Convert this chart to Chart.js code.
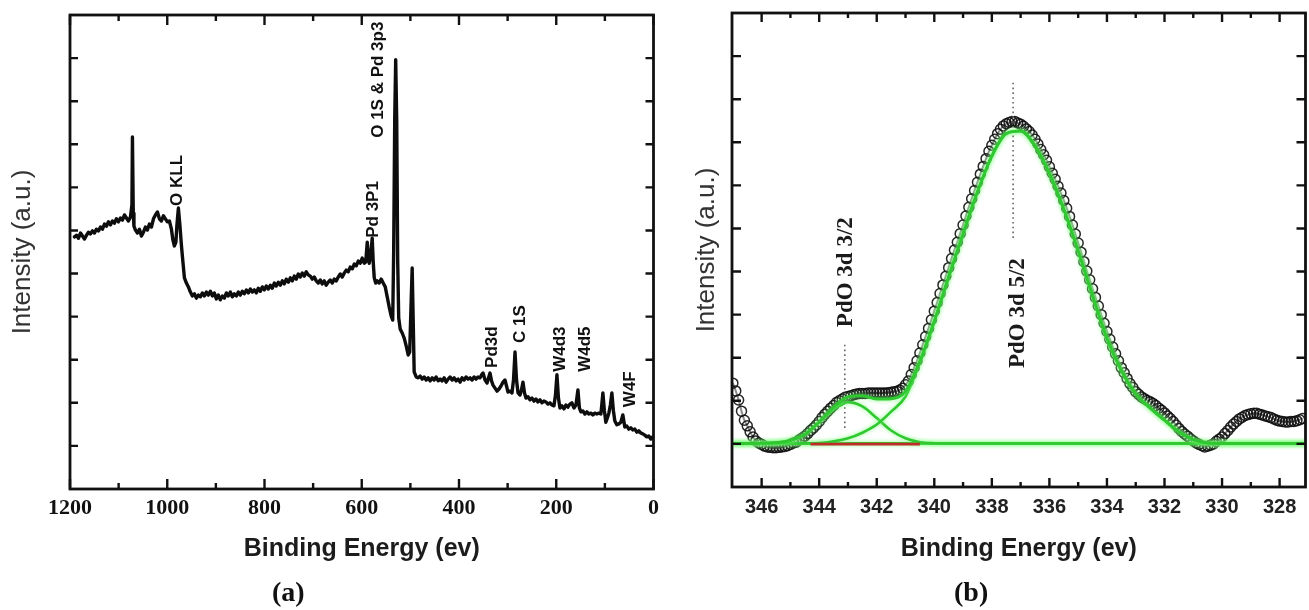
<!DOCTYPE html>
<html>
<head>
<meta charset="utf-8">
<title>XPS spectra</title>
<script src="https://cdn.jsdelivr.net/npm/chart.js@4.4.1/dist/chart.umd.min.js"></script>
<style>
  html, body { margin:0; padding:0; background:#ffffff; overflow:hidden; }
  body { width:1309px; height:610px; position:relative; }
  .panel { position:absolute; top:0; }
  .cap { position:absolute; top:576px; font-family:"Liberation Serif","Times New Roman",serif; font-weight:bold; font-size:28px; color:#111; line-height:32px; white-space:nowrap; }
</style>
</head>
<body>
<div class="panel" style="left:0;width:660px;height:610px"><canvas id="chartA" width="660" height="610"></canvas></div>
<div class="panel" style="left:660px;width:652px;height:610px"><canvas id="chartB" width="652" height="610"></canvas></div>
<div class="cap" style="left:272px">(a)</div>
<div class="cap" style="left:954px">(b)</div>
<script>
// ================= Panel (a): survey spectrum =================
const surveyE = [1190.8,1186.6,1182.5,1178.4,1174.3,1170.2,1166.1,1162.0,1157.9,1153.8,
1149.7,1145.5,1141.4,1137.3,1133.2,1129.1,1125.0,1120.9,1116.8,1112.7,
1108.6,1104.5,1100.3,1096.2,1092.1,1088.0,1083.9,1079.8,1075.7,1072.6,
1071.6,1069.9,1068.5,1065.4,1061.3,1057.2,1053.1,1049.0,1044.9,1040.8,
1036.7,1032.5,1028.4,1024.3,1020.2,1016.1,1012.0,1007.9,1003.8,999.7,
995.6,991.4,988.4,985.3,982.2,980.1,977.1,974.0,970.9,967.8,
964.7,960.6,956.5,952.4,948.3,944.2,940.1,936.0,931.9,927.8,
923.6,919.5,915.4,911.3,907.2,903.1,899.0,894.9,890.8,886.7,
882.5,878.4,874.3,870.2,866.1,862.0,857.9,853.8,849.7,845.6,
841.5,837.3,833.2,829.1,825.0,820.9,816.8,812.7,808.6,804.5,
800.4,796.3,792.1,788.0,783.9,779.8,775.7,771.6,767.5,763.4,
759.3,755.2,751.0,746.9,742.8,738.7,734.6,730.5,726.4,722.3,
718.2,714.1,710.0,705.8,701.7,697.6,693.5,689.4,685.3,681.2,
677.1,673.0,668.9,664.8,660.6,656.5,652.4,648.3,644.2,640.1,
636.0,631.9,627.8,623.7,619.5,615.4,611.3,607.2,603.1,599.0,
594.9,591.8,588.7,586.7,584.6,581.5,578.5,576.4,574.3,571.3,
568.2,564.1,560.0,555.9,551.7,547.6,543.5,539.4,536.3,534.3,
532.2,530.2,528.1,526.1,524.0,520.9,516.8,512.7,508.6,504.5,
501.4,498.3,496.3,494.2,492.2,488.0,483.9,479.8,475.7,471.6,
467.5,463.4,459.3,455.2,451.1,447.0,442.9,438.8,434.7,430.6,
426.5,422.3,418.2,414.1,410.0,405.9,401.8,397.7,393.6,389.5,
385.4,381.3,377.2,373.1,369.0,364.9,360.8,356.6,352.5,350.5,
346.4,342.3,339.2,336.2,333.1,330.0,325.9,321.8,317.7,313.6,
309.5,305.4,302.3,299.2,295.1,291.0,287.9,284.8,281.7,278.6,
274.5,271.5,268.4,265.3,262.2,258.1,254.0,249.9,245.8,241.7,
237.6,233.5,229.4,225.3,221.2,217.1,212.9,208.8,204.7,201.6,
198.6,195.5,192.4,188.3,184.2,180.1,176.0,171.9,167.8,163.6,
159.5,155.4,152.4,149.3,145.2,141.1,137.0,132.9,128.8,124.7,
120.6,116.5,112.4,108.2,106.2,104.1,101.1,98.0,94.9,91.8,
88.7,85.6,82.6,79.5,75.4,71.3,67.2,63.1,59.0,54.9,
50.8,46.7,42.6,38.4,34.3,30.2,26.1,22.0,17.9,13.8,
9.7,5.6,1.5];
const surveyI = [585,589,582,594,587,580,589,596,592,599,
594,603,599,608,603,615,610,620,613,622,
617,627,620,629,624,636,629,622,631,660,
817,640,610,601,594,603,587,596,608,601,
615,608,627,636,643,627,622,634,627,620,
622,603,578,564,573,613,652,613,566,527,
490,478,469,457,448,453,443,450,446,455,
448,457,450,459,448,455,441,450,439,448,
443,455,448,457,446,453,448,457,450,459,
453,462,455,464,457,462,455,466,459,469,
462,471,464,473,466,478,471,480,473,483,
476,487,480,490,483,494,487,499,492,501,
494,504,497,494,487,492,483,478,485,476,
483,473,480,485,478,487,483,492,499,492,
501,508,504,515,511,522,518,529,524,536,
524,527,573,543,524,543,582,527,490,478,
483,478,487,478,469,446,422,401,392,555,
856,996,856,531,397,371,362,350,332,311,
318,439,513,392,272,260,258,262,255,260,
253,258,251,258,253,260,251,255,251,258,
248,255,260,253,258,251,255,248,258,253,
260,255,258,253,260,255,260,258,267,269,
253,246,258,269,251,241,234,227,232,239,
248,253,239,225,227,223,253,318,253,223,
218,230,248,223,211,214,207,211,204,209,
202,207,200,204,202,197,200,195,193,218,
265,211,188,193,186,195,190,197,200,188,
195,230,188,179,181,174,179,174,176,172,
176,174,176,174,197,223,183,155,165,176,
195,223,183,158,149,151,155,172,144,146,
139,142,137,139,132,135,130,128,125,121,
123,116,121];
const surveyTicks = [0,100,200,300,400,500,600,700,800,900,1000,1100,1200];
const surveyTickLabels = [0,200,400,600,800,1000,1200];
const intensityTicks = [100,200,300,400,500,600,700,800,900,1000];
const surveyPeakNames = ['O KLL','O 1S & Pd 3p3','Pd 3P1','Pd3d','C 1S','W4d3','W4d5','W4F'];
const surveyPeakE = [979.1,566.1,576.4,331.9,274.4,192.2,140.8,48.4];
const surveyPeakI = [657,815,583,281,339,272,272,190];

// ================= Panel (b): Pd 3d region =================
const pdE = [347.0,346.9,346.8,346.7,346.6,346.5,346.4,346.3,346.2,346.1,
346.0,345.9,345.8,345.7,345.6,345.5,345.4,345.3,345.2,345.1,
345.0,344.9,344.8,344.7,344.6,344.5,344.4,344.3,344.2,344.1,
344.0,343.9,343.8,343.7,343.6,343.5,343.4,343.3,343.2,343.1,
343.0,342.9,342.8,342.7,342.6,342.5,342.4,342.3,342.2,342.1,
342.0,341.9,341.8,341.7,341.6,341.5,341.4,341.3,341.2,341.1,
341.0,340.9,340.8,340.7,340.6,340.5,340.4,340.3,340.2,340.1,
340.0,339.9,339.8,339.7,339.6,339.5,339.4,339.3,339.2,339.1,
339.0,338.9,338.8,338.7,338.6,338.5,338.4,338.3,338.2,338.1,
338.0,337.9,337.8,337.7,337.6,337.5,337.4,337.3,337.2,337.1,
337.0,336.9,336.8,336.7,336.6,336.5,336.4,336.3,336.2,336.1,
336.0,335.9,335.8,335.7,335.6,335.5,335.4,335.3,335.2,335.1,
335.0,334.9,334.8,334.7,334.6,334.5,334.4,334.3,334.2,334.1,
334.0,333.9,333.8,333.7,333.6,333.5,333.4,333.3,333.2,333.1,
333.0,332.9,332.8,332.7,332.6,332.5,332.4,332.3,332.2,332.1,
332.0,331.9,331.8,331.7,331.6,331.5,331.4,331.3,331.2,331.1,
331.0,330.9,330.8,330.7,330.6,330.5,330.4,330.3,330.2,330.1,
330.0,329.9,329.8,329.7,329.6,329.5,329.4,329.3,329.2,329.1,
329.0,328.9,328.8,328.7,328.6,328.5,328.4,328.3,328.2,328.1,
328.0,327.9,327.8,327.7,327.6,327.5,327.4,327.3,327.2];
const pdI = [241,223,202,176,155,142,128,116,107,102,
99,95,93,92,91,91,92,93,94,96,
99,102,104,109,113,118,124,131,137,144,
152,161,169,176,183,189,196,200,204,208,
210,212,214,216,217,217,217,218,218,218,
218,218,218,218,219,220,221,222,225,229,
237,246,261,277,293,311,330,349,368,388,
408,428,449,469,489,509,530,550,568,588,
608,629,649,669,688,707,726,744,762,779,
793,807,820,830,838,843,846,848,848,845,
842,837,831,825,817,807,796,783,771,758,
743,728,714,698,682,665,647,628,608,587,
566,545,523,501,481,460,440,420,400,380,
361,343,325,309,293,277,265,252,240,231,
221,215,209,205,201,198,194,189,183,178,
172,165,159,152,144,136,129,123,118,112,
107,102,99,96,93,95,97,100,106,111,
116,124,131,139,146,152,158,162,166,168,
170,171,171,169,167,165,163,161,158,155,
153,152,151,151,152,152,154,156,159];
const fitE = [347,346.5,346,345.5,345,344.5,344,343.5,343,342.5,342,341.5,341,340.5,340,339.5,339,338.5,338,337.5,
337,336.5,336,335.5,335,334.5,334,333.5,333,332.5,332,331.5,331,330.5,330,329.5,329,328.5,328,327.5,327];
const envelopeI = [101,101,101.5,103,108,122.5,151,185,209,212,204,205,222,292,385,488,588,685,768,820,
826,792,728,645,548,444,345,270,216,183,155,128,110,102,101,101,101,101,101,101,101];
const peak32I = [101,101,101.5,103,108,122,150,180,197,187,160,131,113,104,101.5,101,101,101,101,101,
101,101,101,101,101,101,101,101,101,101,101,101,101,101,101,101,101,101,101,101,101];
const peak52I = [101,101,101,101,101,101.5,102,106,113,126,145,175,210,289,384,488,588,685,768,820,
826,792,728,645,548,444,345,270,216,183,155,128,110,102,101,101,101,101,101,101,101];
const baseE = [347.3, 326.9];
const baseI = [101, 101];
const shirleyE = [344.3, 340.5];
const shirleyI = [99.5, 99.5];
const pdTicks = [328,329,330,331,332,333,334,335,336,337,338,339,340,341,342,343,344,345,346];
const pdTickLabels = [328,330,332,334,336,338,340,342,344,346];
const pdPeakNames = ['PdO 3d 3/2','PdO 3d 5/2'];
const pdPeakE = [343.07, 337.08];
const pdPeakI = [371, 276];
const markE = [343.11, 337.26];
const markLow = [137, 578];
const markHigh = [334, 940];

// ================= helpers / plugins =================
const SANS = '"Liberation Sans", Arial, Helvetica, sans-serif';
const SERIF = '"Liberation Serif", "Times New Roman", serif';
const pts = (xs, ys) => xs.map((x, i) => ({x: x, y: ys[i]}));

const frameTicks = {
  id: 'frameTicks',
  afterDatasetsDraw(chart, args, o) {
    const {ctx, chartArea: a} = chart;
    const xs = chart.scales.x, ys = chart.scales.y;
    ctx.save();
    ctx.strokeStyle = o.color;
    ctx.lineWidth = o.tickWidth;
    ctx.beginPath();
    xs.ticks.forEach(t => {
      const p = xs.getPixelForValue(t.value);
      const L = o.xMajor.includes(t.value) ? o.majorLen : o.minorLen;
      ctx.moveTo(p, a.bottom); ctx.lineTo(p, a.bottom - L);
      ctx.moveTo(p, a.top); ctx.lineTo(p, a.top + L);
    });
    ys.ticks.forEach(t => {
      const p = ys.getPixelForValue(t.value);
      ctx.moveTo(a.left, p); ctx.lineTo(a.left + o.yLen, p);
      ctx.moveTo(a.right, p); ctx.lineTo(a.right - o.yLen, p);
    });
    ctx.stroke();
    ctx.lineWidth = o.frameWidth;
    ctx.strokeRect(a.left, a.top, a.right - a.left, a.bottom - a.top);
    ctx.restore();
  }
};

const peakLabels = {
  id: 'peakLabels',
  afterDatasetsDraw(chart, args, o) {
    const {ctx} = chart;
    const xs = chart.scales.x, ys = chart.scales.y;
    ctx.save();
    ctx.fillStyle = o.color;
    ctx.font = o.font;
    ctx.textAlign = 'left';
    ctx.textBaseline = 'middle';
    o.names.forEach((name, i) => {
      ctx.save();
      ctx.translate(xs.getPixelForValue(o.e[i]), ys.getPixelForValue(o.v[i]));
      ctx.rotate(-Math.PI / 2);
      ctx.fillText(name, 0, 0);
      ctx.restore();
    });
    ctx.restore();
  }
};

const glow = {
  id: 'glow',
  beforeDatasetDraw(chart, args) {
    const ds = chart.data.datasets[args.index];
    if (ds.glowColor) {
      chart.ctx.save();
      chart.ctx.shadowColor = ds.glowColor;
      chart.ctx.shadowBlur = ds.glowBlur || 6;
    }
  },
  afterDatasetDraw(chart, args) {
    const ds = chart.data.datasets[args.index];
    if (ds.glowColor) chart.ctx.restore();
  }
};

function xScale(min, max, ticksArr, labelsArr, fontSpec, pad, height, titlePad) {
  return {
    type: 'linear', reverse: true, min: min, max: max,
    afterBuildTicks: s => { s.ticks = ticksArr.map(v => ({value: v})); },
    afterFit: s => { s.height = height; },
    grid: {display: false, drawTicks: false},
    border: {display: false},
    ticks: {autoSkip: false, maxRotation: 0, minRotation: 0, padding: pad, color: fontSpec.color,
      font: {family: fontSpec.family, size: fontSpec.size, weight: 'bold'},
      callback: v => labelsArr.includes(v) ? String(v) : ''},
    title: {display: true, text: 'Binding Energy (ev)', color: '#1c1c1c',
      font: {family: SANS, size: 25, weight: 'bold'}, padding: {top: 0, bottom: titlePad}}
  };
}
function yScale(width, titlePad) {
  return {
    type: 'linear', min: 0, max: 1100,
    afterBuildTicks: s => { s.ticks = intensityTicks.map(v => ({value: v})); },
    afterFit: s => { s.width = width; },
    grid: {display: false, drawTicks: false},
    border: {display: false},
    ticks: {display: false},
    title: {display: true, text: 'Intensity (a.u.)', color: '#333',
      font: {family: SANS, size: 26, weight: 'normal'}, padding: {top: titlePad, bottom: 0}}
  };
}

// ================= chart (a) =================
new Chart(document.getElementById('chartA'), {
  type: 'line',
  data: {datasets: [{
    data: pts(surveyE, surveyI),
    borderColor: '#0d0d0d', borderWidth: 3.4, pointRadius: 0, tension: 0,
    borderJoinStyle: 'round', borderCapStyle: 'round', clip: 0
  }]},
  options: {
    responsive: false, animation: false, events: [],
    layout: {padding: {left: 0, right: 6.5, top: 15, bottom: 0}},
    plugins: {
      legend: {display: false}, tooltip: {enabled: false},
      frameTicks: {color: '#111', tickWidth: 2.4, frameWidth: 2.8, majorLen: 10, minorLen: 6, yLen: 8, xMajor: surveyTickLabels},
      peakLabels: {color: '#111', font: 'bold 17px ' + SANS, names: surveyPeakNames, e: surveyPeakE, v: surveyPeakI}
    },
    scales: {
      x: xScale(0, 1200, surveyTicks, surveyTickLabels, {family: SERIF, size: 22, color: '#111'}, 6, 121, 46),
      y: yScale(70, 7.4)
    }
  },
  plugins: [glow, frameTicks, peakLabels]
});

// ================= chart (b) =================
const GREEN = 'rgb(48,200,48)';
const GLOW = 'rgba(120,255,120,0.9)';
new Chart(document.getElementById('chartB'), {
  type: 'line',
  data: {datasets: [
    {label: 'background', data: pts(shirleyE, shirleyI), borderColor: 'rgb(190,45,40)', borderWidth: 2.6,
      pointRadius: 0, order: 1},
    {label: 'envelope', data: pts(fitE, envelopeI), borderColor: GREEN, borderWidth: 3, pointRadius: 0,
      cubicInterpolationMode: 'monotone', glowColor: GLOW, glowBlur: 4, order: 2},
    {label: 'PdO 3d 5/2', data: pts(fitE, peak52I), borderColor: GREEN, borderWidth: 2.6, pointRadius: 0,
      cubicInterpolationMode: 'monotone', glowColor: GLOW, glowBlur: 4, order: 3},
    {label: 'PdO 3d 3/2', data: pts(fitE, peak32I), borderColor: GREEN, borderWidth: 2.6, pointRadius: 0,
      cubicInterpolationMode: 'monotone', glowColor: GLOW, glowBlur: 4, order: 4},
    {label: 'baseline', data: pts(baseE, baseI), borderColor: GREEN, borderWidth: 3, pointRadius: 0,
      glowColor: GLOW, glowBlur: 4, order: 5},
    {label: 'mark1', data: pts([markE[0], markE[0]], [markLow[0], markHigh[0]]), borderColor: '#666',
      borderWidth: 1.6, borderDash: [1.6, 3.2], pointRadius: 0, order: 8},
    {label: 'mark2', data: pts([markE[1], markE[1]], [markLow[1], markHigh[1]]), borderColor: '#666',
      borderWidth: 1.6, borderDash: [1.6, 3.2], pointRadius: 0, order: 8},
    {label: 'data', data: pts(pdE, pdI), showLine: true, borderColor: 'rgba(45,45,45,0.55)', borderWidth: 2,
      tension: 0.3, pointRadius: 5, pointBorderWidth: 1.5,
      pointBorderColor: 'rgba(15,15,15,0.9)', pointBackgroundColor: 'rgba(255,255,255,0)',
      pointHoverRadius: 5, clip: 0, order: 10}
  ]},
  options: {
    responsive: false, animation: false, events: [],
    layout: {padding: {left: 0, right: 1, top: 13, bottom: 0}},
    plugins: {
      legend: {display: false}, tooltip: {enabled: false},
      frameTicks: {color: '#111', tickWidth: 2.4, frameWidth: 2.8, majorLen: 9, minorLen: 5, yLen: 9, xMajor: pdTickLabels},
      peakLabels: {color: '#1a1a1a', font: 'bold 23px ' + SERIF, names: pdPeakNames, e: pdPeakE, v: pdPeakI}
    },
    scales: {
      x: xScale(327.1, 347.03, pdTicks, pdTickLabels, {family: SANS, size: 20, color: '#222'}, 8, 123, 46),
      y: yScale(72, 31.4)
    }
  },
  plugins: [glow, frameTicks, peakLabels]
});
</script>
</body>
</html>
